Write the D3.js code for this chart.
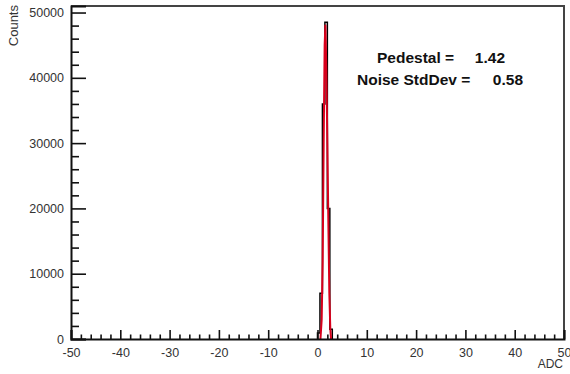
<!DOCTYPE html>
<html>
<head>
<meta charset="utf-8">
<script src="https://cdn.jsdelivr.net/npm/d3@7"></script>
<style>
  html, body { margin: 0; padding: 0; background: #fff; }
  svg { display: block; font-family: "Liberation Sans", Arial, Helvetica, sans-serif; }
</style>
</head>
<body>
<svg id="chart" width="570" height="374"></svg>
<script>
// ---- data ----
const xDomain = [-50, 50];
const yDomain = [0, 51000];
const xMajorTicks = [-50, -40, -30, -20, -10, 0, 10, 20, 30, 40, 50];
const yMajorTicks = [0, 10000, 20000, 30000, 40000, 50000];
const binWidth = 0.5;
const binLow = [0.0, 0.5, 1.0, 1.5, 2.0, 2.5];
const binCounts = [900, 7000, 36000, 48500, 20000, 1500];
const fitX = [0.6, 0.85, 1.05, 1.25, 1.45, 1.6, 1.8, 2.0, 2.2, 2.4, 2.6, 2.75];
const fitY = [0, 3000, 12000, 30000, 45000, 48000, 41000, 30000, 18000, 7000, 1500, 0];
const statLabels = ["Pedestal =", "Noise StdDev ="];
const statValues = ["1.42", "0.58"];
const xTitle = "ADC";
const yTitle = "Counts";

// ---- layout ----
const svg = d3.select("#chart");
const L = 71, R = 564, T = 6, B = 339;
const x = d3.scaleLinear().domain(xDomain).range([L, R]);
const y = d3.scaleLinear().domain(yDomain).range([B, T]);

const xMinor = d3.range(xDomain[0], xDomain[1] + 0.001, 2).filter(v => v % 10 !== 0);
const yMinor = d3.range(0, yDomain[1], 2000).filter(v => v % 10000 !== 0);
const fmt = v => String(v);

svg.append("clipPath").attr("id", "clip")
  .append("rect").attr("x", L).attr("y", T).attr("width", R - L).attr("height", B - T);

// histogram (step line)
const histPts = [];
histPts.push([x(binLow[0]), y(0)]);
binLow.forEach((lo, i) => {
  histPts.push([x(lo), y(binCounts[i])]);
  histPts.push([x(lo + binWidth), y(binCounts[i])]);
});
histPts.push([x(binLow[binLow.length - 1] + binWidth), y(0)]);
svg.append("path")
  .attr("clip-path", "url(#clip)")
  .attr("d", d3.line()(histPts))
  .attr("fill", "none").attr("stroke", "#000").attr("stroke-width", 1.5);

// fit curve
svg.append("path")
  .attr("clip-path", "url(#clip)")
  .attr("d", d3.line().x((d, i) => x(fitX[i])).y(d => y(d))(fitY))
  .attr("fill", "none").attr("stroke", "#d8001c").attr("stroke-width", 2)
  .attr("stroke-linejoin", "round");

// frame
svg.append("path")
  .attr("d", `M${L},${T}H${R}V${B}`)
  .attr("fill", "none").attr("stroke", "#444").attr("stroke-width", 2);

// axes
const tickFont = 12.5;
svg.append("g").attr("transform", `translate(0,${B})`)
  .call(d3.axisBottom(x).tickValues(xMajorTicks).tickSize(-9).tickPadding(9).tickFormat(fmt));
svg.append("g").attr("transform", `translate(0,${B})`)
  .call(d3.axisBottom(x).tickValues(xMinor).tickSize(-4.5).tickFormat(""))
  .call(g => g.select(".domain").remove());
svg.append("g").attr("transform", `translate(${L},0)`)
  .call(d3.axisLeft(y).tickValues(yMajorTicks).tickSize(-15).tickPadding(7).tickFormat(fmt));
svg.append("g").attr("transform", `translate(${L},0)`)
  .call(d3.axisLeft(y).tickValues(yMinor).tickSize(-8).tickFormat(""))
  .call(g => g.select(".domain").remove());

svg.selectAll(".tick line").attr("stroke", "#111").attr("stroke-width", 1.6);
svg.selectAll(".domain").attr("stroke", "#111").attr("stroke-width", 2);
svg.selectAll(".tick text").attr("font-size", tickFont).attr("fill", "#333")
  .attr("font-family", "'Liberation Sans', Arial, sans-serif");

// axis titles
svg.append("text").attr("x", 563).attr("y", 368).attr("text-anchor", "end")
  .attr("font-size", 12).attr("fill", "#333").text(xTitle);
svg.append("text").attr("transform", "translate(17.5,5) rotate(-90)").attr("text-anchor", "end")
  .attr("font-size", 13).attr("fill", "#333").text(yTitle);

// stats text
const statG = svg.append("g").attr("font-size", 15.5).attr("font-weight", "bold").attr("fill", "#111");
const statY = [63, 85];
const labX = [377, 357];
const valX = [505, 523];
statLabels.forEach((s, i) => {
  statG.append("text").attr("x", labX[i]).attr("y", statY[i]).attr("text-anchor", "start").text(s);
});
statValues.forEach((s, i) => {
  statG.append("text").attr("x", valX[i]).attr("y", statY[i]).attr("text-anchor", "end").text(s);
});
</script>
</body>
</html>
